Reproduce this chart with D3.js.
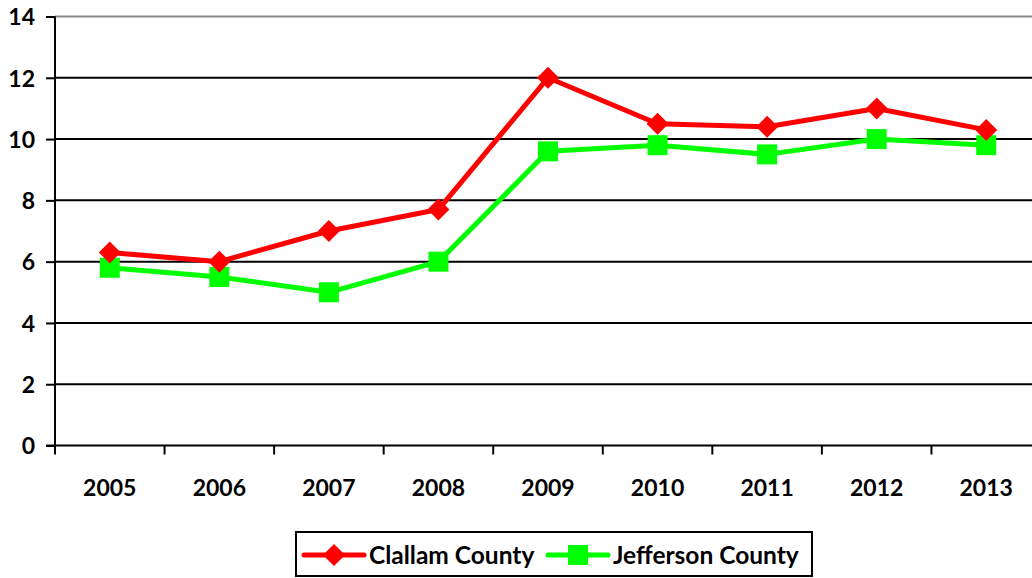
<!DOCTYPE html>
<html>
<head>
<meta charset="utf-8">
<script src="https://cdn.jsdelivr.net/npm/d3@7"></script>
<style>
  body { margin: 0; background: #fff; }
  text { font-family: Lato, "Open Sans", sans-serif; font-weight: bold; fill: #000; }
</style>
</head>
<body>
<div id="chart"></div>
<script>
// data
var years = ['2005', '2006', '2007', '2008', '2009', '2010', '2011', '2012', '2013'];
var clallam = [6.3, 6.0, 7.0, 7.7, 12.0, 10.5, 10.4, 11.0, 10.3];
var jefferson = [5.8, 5.5, 5.0, 6.0, 9.6, 9.8, 9.5, 10.0, 9.8];
var yTicks = [0, 2, 4, 6, 8, 10, 12, 14];

var seriesNames = ['Clallam County', 'Jefferson County'];
var seriesColors = ['#ff0000', '#00ff00'];

var width = 1032, height = 578;
var margin = { top: 16, left: 55, bottom: 133 };
var plotRight = 1041;

var svg = d3.select('#chart')
  .append('svg')
  .attr('width', width)
  .attr('height', height);

var xScale = d3.scaleBand()
  .domain(years)
  .range([margin.left, plotRight]);

var yScale = d3.scaleLinear()
  .domain([0, 14])
  .range([height - margin.bottom + 0.5, margin.top + 0.5]);

// gridlines
svg.append('g')
  .selectAll('line')
  .data(yTicks.filter(function (d) { return d > 0; }))
  .enter()
  .append('line')
  .attr('x1', margin.left)
  .attr('x2', width)
  .attr('y1', function (d) { return yScale(d); })
  .attr('y2', function (d) { return yScale(d); })
  .attr('stroke', function (d) { return d === 14 ? '#888' : '#000'; })
  .attr('stroke-width', 2);

// y axis
var yAxis = svg.append('g')
  .attr('transform', 'translate(' + margin.left + ',0)')
  .call(d3.axisLeft(yScale).tickValues(yTicks).tickSize(9).tickPadding(11));
yAxis.select('.domain').attr('stroke-width', 2).attr('d', 'M0,' + yScale(14) + 'V' + yScale(0));
yAxis.selectAll('.tick line').attr('stroke-width', 2);
yAxis.selectAll('.tick text').style('font-size', '23px').attr('dy', '0.36em');

// x axis with ticks on category boundaries
var xAxis = svg.append('g')
  .attr('transform', 'translate(0,' + yScale(0) + ')');
xAxis.append('line')
  .attr('x1', margin.left - 9)
  .attr('x2', width)
  .attr('stroke', '#000')
  .attr('stroke-width', 2);
xAxis.selectAll('.bound')
  .data(years)
  .enter()
  .append('line')
  .attr('class', 'bound')
  .attr('x1', function (d) { return xScale(d); })
  .attr('x2', function (d) { return xScale(d); })
  .attr('y1', 0)
  .attr('y2', 9)
  .attr('stroke', '#000')
  .attr('stroke-width', 2);
xAxis.selectAll('.lbl')
  .data(years)
  .enter()
  .append('text')
  .attr('class', 'lbl')
  .attr('x', function (d) { return xScale(d) + xScale.bandwidth() / 2; })
  .attr('y', 50)
  .attr('text-anchor', 'middle')
  .style('font-size', '23px')
  .text(function (d) { return d; });

// lines + markers
var allSeries = [clallam, jefferson];
var line = d3.line()
  .x(function (d, i) { return xScale(years[i]) + xScale.bandwidth() / 2; })
  .y(function (d) { return yScale(d); });

function drawMarker(g, k, x, y) {
  if (k === 0) {
    g.append('path')
      .attr('d', 'M' + x + ',' + (y - 11) + 'L' + (x + 11) + ',' + y + 'L' + x + ',' + (y + 11) + 'L' + (x - 11) + ',' + y + 'Z')
      .attr('fill', seriesColors[k]);
  } else {
    g.append('rect')
      .attr('x', x - 10).attr('y', y - 10)
      .attr('width', 20).attr('height', 20)
      .attr('fill', seriesColors[k]);
  }
}

[1, 0].forEach(function (k) {
  svg.append('path')
    .attr('d', line(allSeries[k]))
    .attr('fill', 'none')
    .attr('stroke', seriesColors[k])
    .attr('stroke-width', 5)
    .attr('stroke-linejoin', 'round');
  var g = svg.append('g');
  allSeries[k].forEach(function (v, i) {
    drawMarker(g, k, xScale(years[i]) + xScale.bandwidth() / 2, yScale(v));
  });
});

// legend
var legend = svg.append('g');
legend.append('rect')
  .attr('x', 296).attr('y', 532)
  .attr('width', 516).attr('height', 44)
  .attr('fill', 'none')
  .attr('stroke', '#000')
  .attr('stroke-width', 2);
var legendX = [304, 548];
seriesNames.forEach(function (name, k) {
  var lx = legendX[k], ly = 555;
  legend.append('line')
    .attr('x1', lx).attr('x2', lx + 60)
    .attr('y1', ly).attr('y2', ly)
    .attr('stroke', seriesColors[k])
    .attr('stroke-width', 5)
    .attr('stroke-linecap', 'round');
  drawMarker(legend, k, lx + 30, ly);
  legend.append('text')
    .attr('x', lx + 65)
    .attr('y', ly)
    .attr('dy', '0.36em')
    .style('font-size', '24.5px')
    .text(name);
});
</script>
</body>
</html>
